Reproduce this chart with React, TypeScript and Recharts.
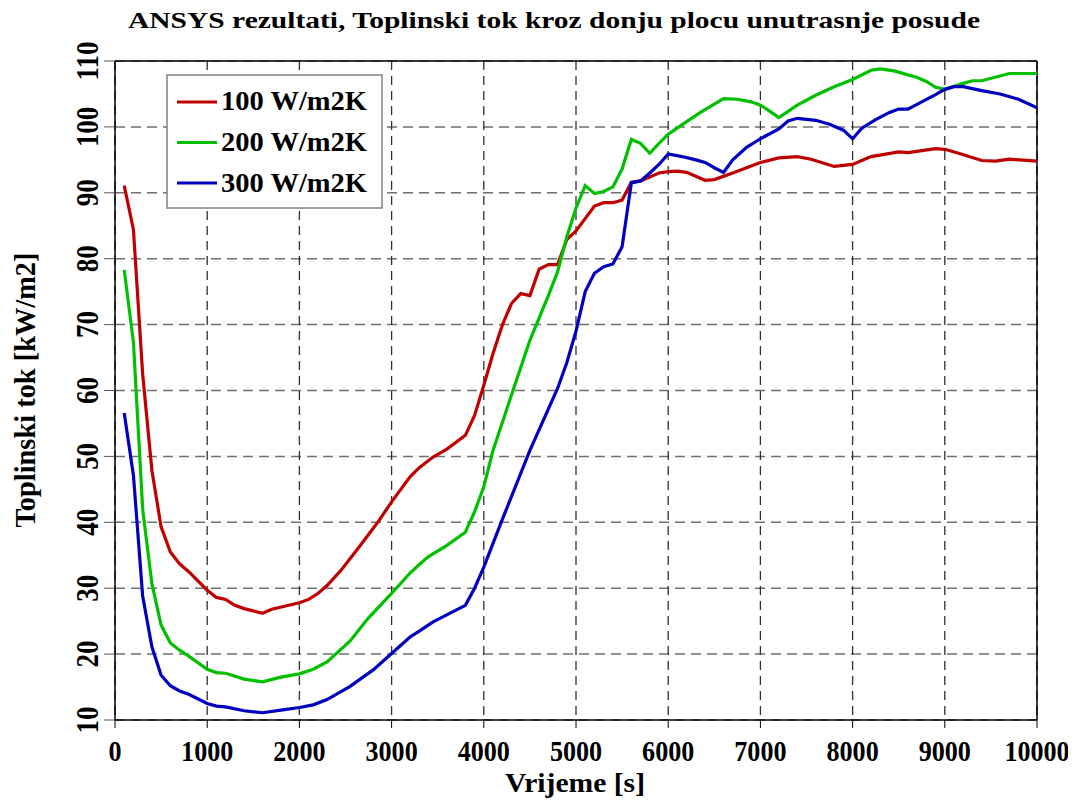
import React from "react";
import {
  LineChart,
  Line,
  XAxis,
  YAxis,
  CartesianGrid,
  ReferenceLine,
} from "recharts";

// values (time in s, heat flux in kW/m2)
const vrijeme100 = [
  100, 200, 300, 400, 500, 600, 700, 800, 1000, 1100, 1200, 1300, 1400, 1600,
  1700, 1850, 2000, 2100, 2200, 2300, 2450, 2650, 2850, 3000, 3200, 3300, 3450,
  3600, 3800, 3900, 4000, 4100, 4200, 4300, 4400, 4500, 4600, 4700, 4800, 4900,
  5000, 5200, 5300, 5400, 5500, 5600, 5700, 5900, 6000, 6100, 6200, 6400, 6500,
  6700, 7000, 7200, 7400, 7550, 7800, 8000, 8200, 8500, 8600, 8900, 9000, 9150,
  9400, 9550, 9700, 10000,
];
const tok100 = [
  91.1, 84.4, 62.5, 47.9, 39.3, 35.5, 33.7, 32.5, 29.7, 28.6, 28.3, 27.4, 26.9,
  26.2, 26.8, 27.3, 27.8, 28.3, 29.2, 30.4, 32.7, 36.3, 40.0, 43.1, 46.9, 48.3,
  49.9, 51.1, 53.2, 56.2, 60.8, 65.6, 69.9, 73.2, 74.7, 74.4, 78.4, 79.1, 79.1,
  82.9, 84.2, 88.0, 88.5, 88.5, 88.9, 91.6, 91.8, 93.0, 93.2, 93.3, 93.1, 91.9,
  92.0, 93.0, 94.6, 95.3, 95.5, 95.1, 94.0, 94.3, 95.5, 96.2, 96.1, 96.7, 96.6,
  96.0, 94.9, 94.8, 95.1, 94.8,
];

const vrijeme200 = [
  100, 200, 300, 400, 500, 600, 700, 800, 1000, 1100, 1200, 1400, 1600, 1800,
  2000, 2150, 2300, 2550, 2750, 3000, 3200, 3300, 3400, 3600, 3800, 3900, 4000,
  4100, 4300, 4500, 4700, 4800, 4900, 5000, 5100, 5200, 5300, 5400, 5500, 5600,
  5700, 5800, 5900, 6000, 6200, 6350, 6600, 6750, 6900, 7000, 7100, 7200, 7400,
  7600, 7800, 8000, 8200, 8300, 8450, 8700, 8800, 8900, 9000, 9200, 9300, 9400,
  9700, 10000,
];
const tok200 = [
  78.3, 67.3, 42.0, 30.7, 24.4, 21.7, 20.6, 19.7, 17.7, 17.2, 17.1, 16.2, 15.8,
  16.5, 17.0, 17.7, 18.8, 22.0, 25.5, 29.2, 32.3, 33.6, 34.8, 36.5, 38.5, 41.6,
  45.4, 50.9, 59.3, 67.6, 74.4, 78.0, 83.3, 87.7, 91.1, 89.9, 90.2, 90.9, 93.6,
  98.1, 97.5, 96.0, 97.5, 98.9, 100.8, 102.2, 104.3, 104.2, 103.8, 103.3, 102.4,
  101.4, 103.3, 104.8, 106.1, 107.2, 108.6, 108.8, 108.5, 107.5, 106.9, 106.0,
  105.7, 106.6, 107.0, 107.0, 108.1, 108.1,
];

const vrijeme300 = [
  100, 200, 300, 400, 500, 600, 700, 800, 1000, 1100, 1200, 1400, 1600, 1800,
  2000, 2150, 2300, 2550, 2800, 3000, 3200, 3300, 3450, 3800, 3900, 4000, 4200,
  4500, 4800, 4900, 5000, 5100, 5200, 5300, 5400, 5500, 5600, 5700, 5800, 5900,
  6000, 6150, 6300, 6400, 6500, 6600, 6700, 6850, 7000, 7200, 7300, 7400, 7600,
  7750, 7900, 8000, 8100, 8250, 8400, 8500, 8600, 8750, 8900, 9000, 9100, 9200,
  9400, 9600, 9800, 10000,
];
const tok300 = [
  56.6, 47.1, 28.8, 21.1, 16.8, 15.2, 14.4, 13.9, 12.5, 12.1, 12.0, 11.4, 11.1,
  11.5, 11.9, 12.3, 13.1, 15.1, 17.6, 20.1, 22.6, 23.5, 24.9, 27.4, 30.0, 33.2,
  40.4, 50.9, 60.3, 64.2, 69.0, 75.0, 77.8, 78.8, 79.2, 81.8, 91.5, 91.8, 93.0,
  94.3, 95.9, 95.5, 95.0, 94.6, 93.8, 93.1, 95.0, 96.9, 98.2, 99.7, 100.9, 101.3,
  101.0, 100.4, 99.5, 98.2, 99.8, 101.1, 102.2, 102.7, 102.7, 103.8, 104.9,
  105.7, 106.1, 106.1, 105.5, 105.0, 104.2, 102.9,
];

const xTicks = [0, 1000, 2000, 3000, 4000, 5000, 6000, 7000, 8000, 9000, 10000];
const yTicks = [10, 20, 30, 40, 50, 60, 70, 80, 90, 100, 110];

const series = [
  { name: "100 W/m2K", color: "#C00000", t: vrijeme100, v: tok100 },
  { name: "200 W/m2K", color: "#00C000", t: vrijeme200, v: tok200 },
  { name: "300 W/m2K", color: "#0000C0", t: vrijeme300, v: tok300 },
];

const FONT = "'Liberation Serif', 'Times New Roman', serif";

const XTick = (props: any) => {
  const { x, payload } = props;
  return (
    <text
      transform={`translate(${x}, 753) scale(0.87, 1)`}
      textAnchor="middle"
      fontFamily={FONT}
      fontWeight="bold"
      fontSize={30}
      fill="#000"
    >
      {payload.value}
    </text>
  );
};

const YTick = (props: any) => {
  const { y, payload } = props;
  return (
    <text
      transform={`translate(90, ${y}) rotate(-90) scale(0.87, 1)`}
      textAnchor="middle"
      fontFamily={FONT}
      fontWeight="bold"
      fontSize={31}
      fill="#000"
    >
      {payload.value}
    </text>
  );
};

export default function App() {
  const W = 1068;
  const H = 790;
  return (
    <div style={{ position: "relative", width: W, height: H }}>
      <LineChart
        width={W}
        height={H}
        margin={{ top: 53, right: 39, bottom: 0, left: 0 }}
      >
        <CartesianGrid
          vertical={false}
          stroke="#707070"
          strokeWidth={1.5}
          strokeDasharray="10 6"
        />
        <CartesianGrid
          horizontal={false}
          stroke="#303030"
          strokeWidth={1.3}
          strokeDasharray="9 6"
        />
        <XAxis
          dataKey="t"
          type="number"
          domain={[0, 10000]}
          ticks={xTicks}
          interval={0}
          allowDataOverflow
          height={78}
          tickSize={8}
          axisLine={{ stroke: "#000", strokeWidth: 1.5 }}
          tickLine={{ stroke: "#000" }}
          tick={<XTick />}
        />
        <YAxis
          type="number"
          domain={[10, 110]}
          ticks={yTicks}
          interval={0}
          allowDataOverflow
          width={107}
          tickSize={11}
          axisLine={{ stroke: "#000", strokeWidth: 1.5 }}
          tickLine={{ stroke: "#555" }}
          tick={<YTick />}
        />
        <ReferenceLine y={110} stroke="#000" strokeWidth={1.5} />
        <ReferenceLine x={10000} stroke="#000" strokeWidth={1.5} />
        {series.map((s) => (
          <Line
            key={s.name}
            data={s.t.map((t, i) => ({ t, v: s.v[i] }))}
            dataKey="v"
            type="linear"
            stroke={s.color}
            strokeWidth={3.2}
            dot={false}
            isAnimationActive={false}
          />
        ))}
      </LineChart>
      <svg
        width={W}
        height={H}
        style={{ position: "absolute", left: 0, top: 0, pointerEvents: "none" }}
      >
        <text
          x={546}
          y={20}
          textAnchor="middle"
          fontFamily={FONT}
          fontWeight="bold"
          fontSize={24}
          textLength={852}
          lengthAdjust="spacingAndGlyphs"
        >
          ANSYS rezultati, Toplinski tok kroz donju plocu unutrasnje posude
        </text>
        <text
          transform="translate(27, 382) rotate(-90)"
          textAnchor="middle"
          fontFamily={FONT}
          fontWeight="bold"
          fontSize={29}
          textLength={275}
          lengthAdjust="spacingAndGlyphs"
        >
          Toplinski tok [kW/m2]
        </text>
        <text
          x={567}
          y={784}
          textAnchor="middle"
          fontFamily={FONT}
          fontWeight="bold"
          fontSize={28}
          textLength={140}
          lengthAdjust="spacingAndGlyphs"
        >
          Vrijeme [s]
        </text>
        <rect
          x={159}
          y={67}
          width={215}
          height={133}
          fill="#fff"
          stroke="#808080"
          strokeWidth={1.5}
        />
        {series.map((s, i) => (
          <g key={s.name}>
            <line
              x1={169}
              x2={209}
              y1={94 + i * 40.5}
              y2={94 + i * 40.5}
              stroke={s.color}
              strokeWidth={3.2}
            />
            <text
              x={213}
              y={101.5 + i * 41}
              fontFamily={FONT}
              fontWeight="bold"
              fontSize={28}
              textLength={146}
              lengthAdjust="spacingAndGlyphs"
            >
              {s.name}
            </text>
          </g>
        ))}
      </svg>
    </div>
  );
}
